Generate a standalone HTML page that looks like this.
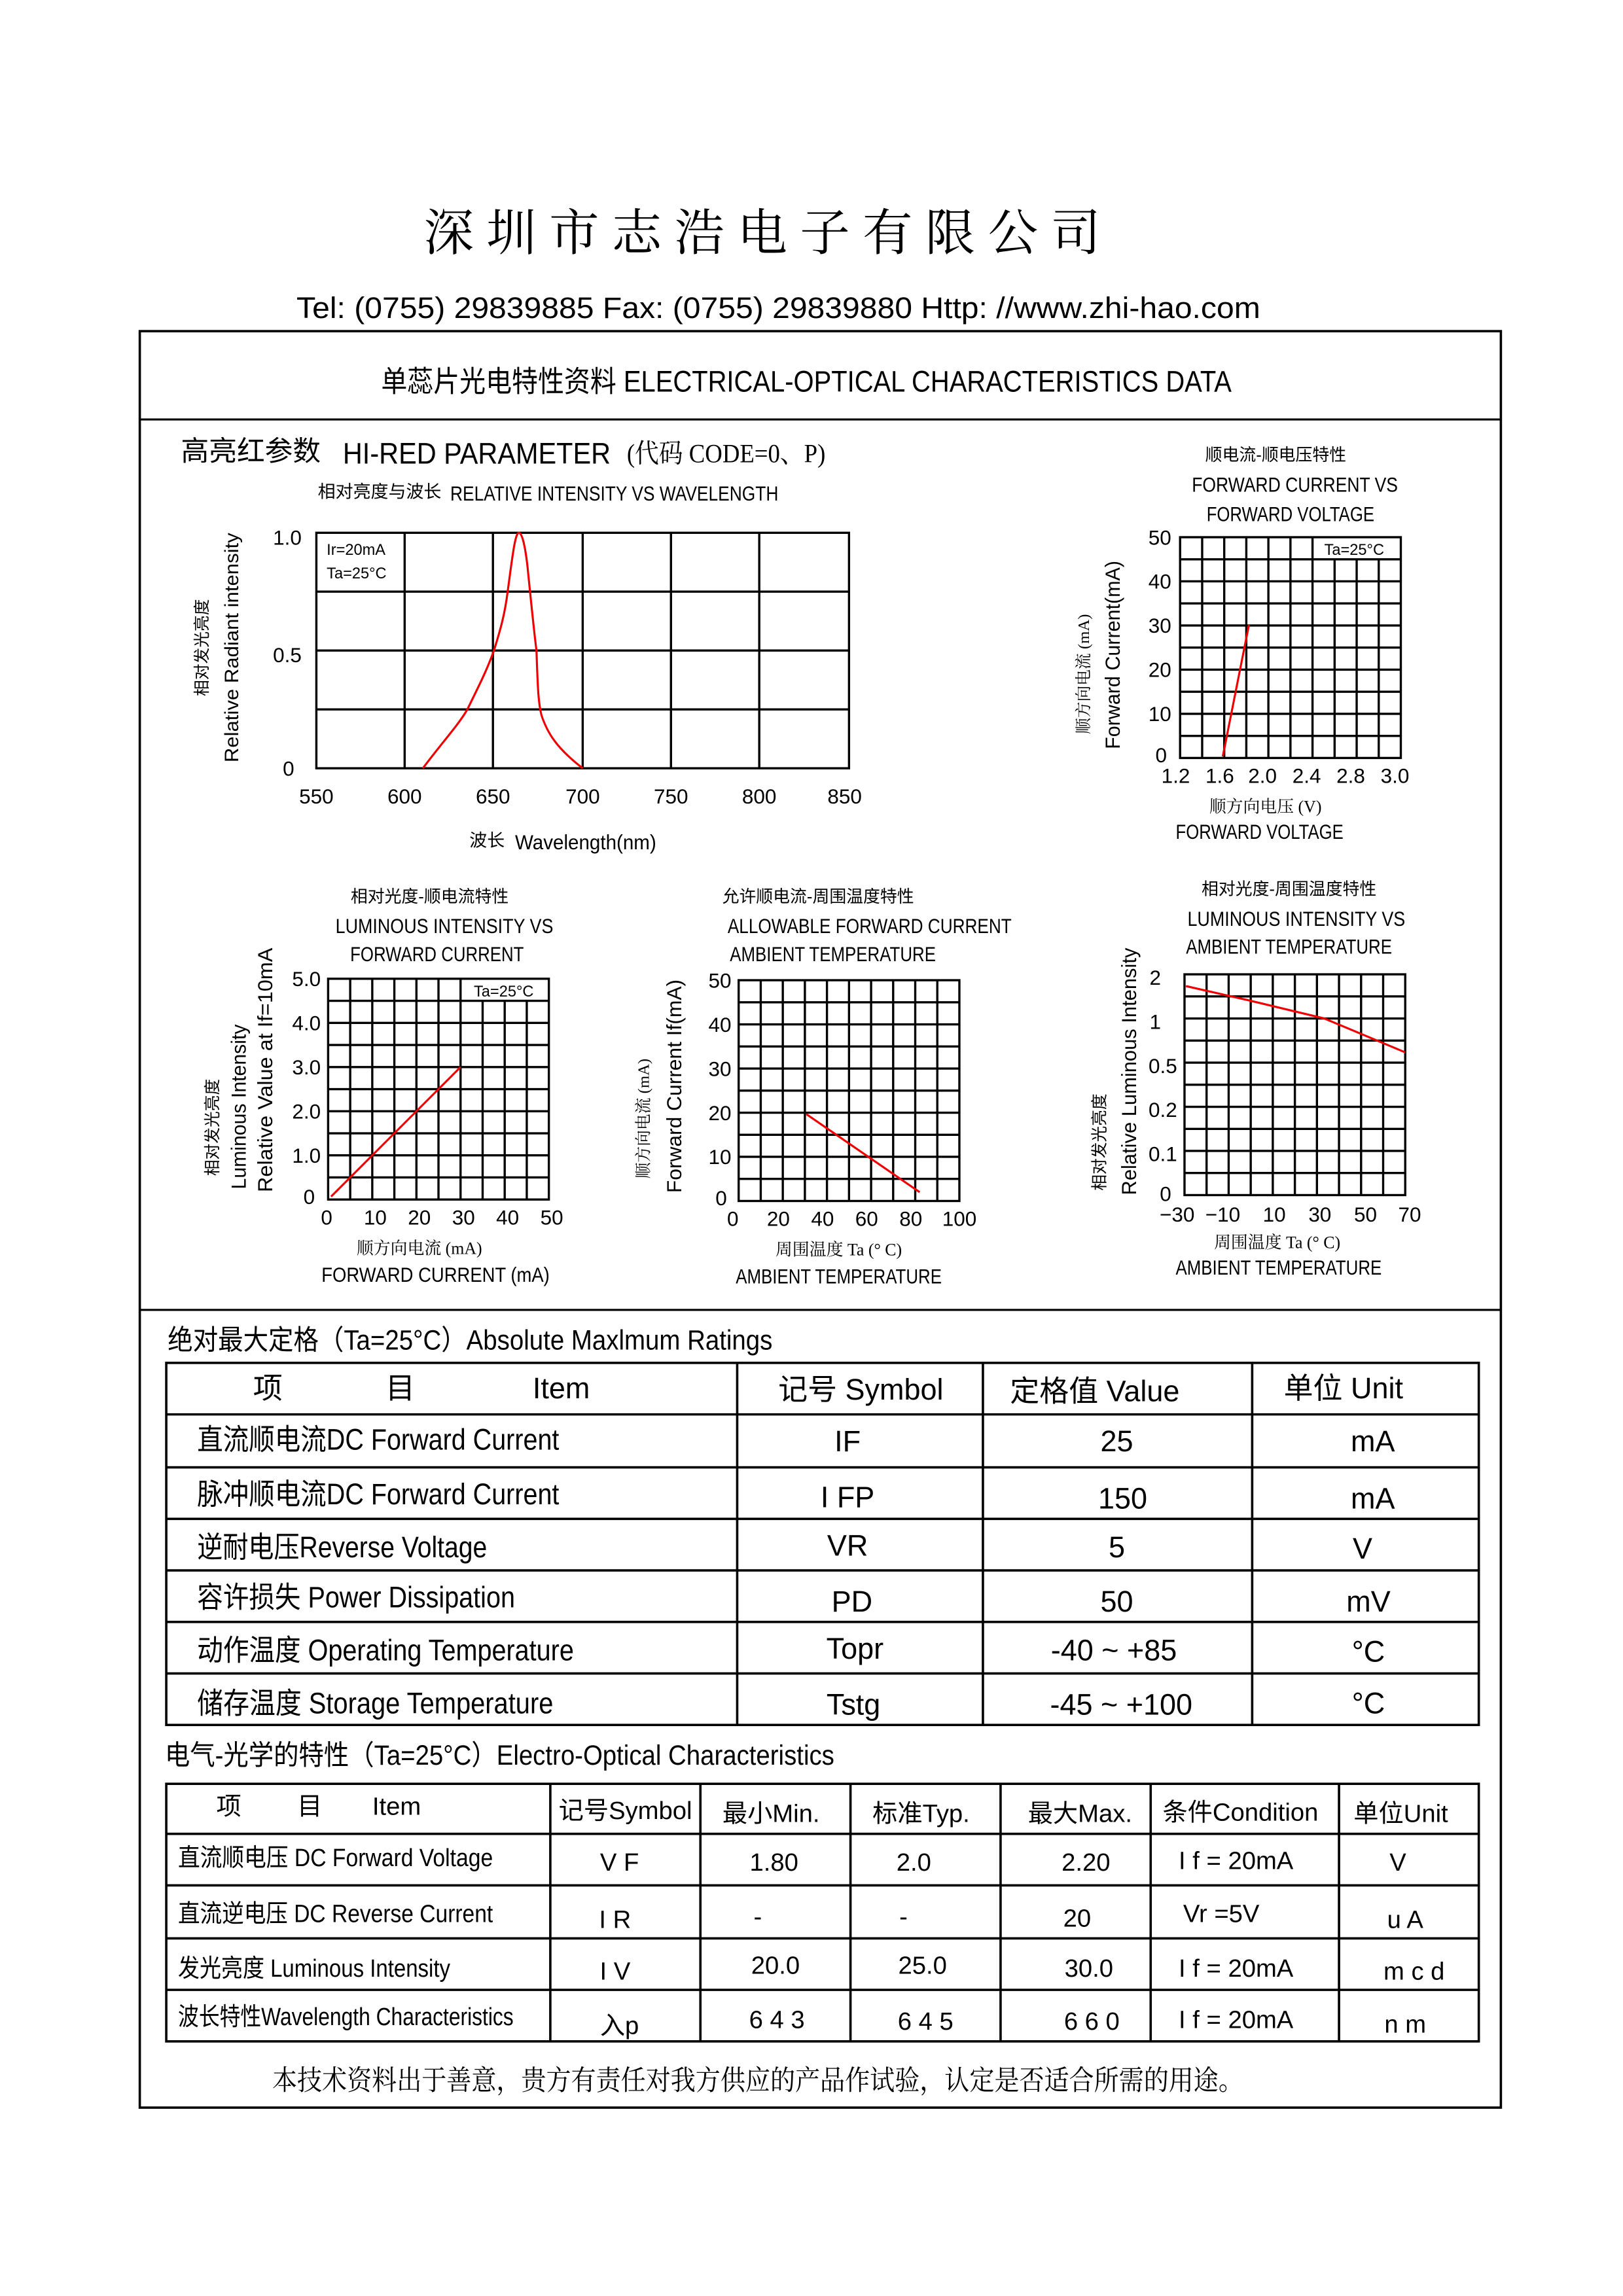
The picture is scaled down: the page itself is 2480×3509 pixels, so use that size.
<!DOCTYPE html>
<html><head><meta charset="utf-8"><style>
html,body{margin:0;padding:0;background:#fff;}
svg{display:block;}
text{font-family:"Liberation Sans","Noto Sans CJK SC",sans-serif;fill:#000;}
.s{font-family:"Liberation Serif","Noto Serif CJK SC",serif;}
</style></head><body>
<svg width="2480" height="3509" viewBox="0 0 1103 1560" preserveAspectRatio="none" xmlns="http://www.w3.org/2000/svg">
<rect width="1103" height="1560" fill="#fff"/>
<!-- header -->
<text x="518" y="170" font-size="34" text-anchor="middle" class="s" textLength="460" lengthAdjust="spacing">深圳市志浩电子有限公司</text>
<text x="529" y="216" font-size="20" text-anchor="middle" textLength="655" lengthAdjust="spacingAndGlyphs">Tel:  (0755)  29839885   Fax:  (0755)  29839880   Http: //www.zhi-hao.com</text>
<rect x="95" y="225" width="925" height="1207" fill="none" stroke="#000" stroke-width="1.6"/>
<line x1="95" y1="285" x2="1020" y2="285" stroke="#000" stroke-width="1.4"/>
<line x1="95" y1="890" x2="1020" y2="890" stroke="#000" stroke-width="1.4"/>
<text x="548" y="266" font-size="20" text-anchor="middle" textLength="578" lengthAdjust="spacingAndGlyphs">单蕊片光电特性资料 ELECTRICAL-OPTICAL  CHARACTERISTICS  DATA</text>

<text x="123" y="313" font-size="19">高亮红参数</text>
<text x="233" y="315" font-size="20" textLength="182" lengthAdjust="spacingAndGlyphs">HI-RED  PARAMETER</text>
<text x="426" y="314" font-size="18" class="s" textLength="135" lengthAdjust="spacingAndGlyphs">(代码 CODE=0、P)</text>
<text x="216" y="338" font-size="12">相对亮度与波长</text>
<text x="306" y="340" font-size="14" textLength="223" lengthAdjust="spacingAndGlyphs">RELATIVE  INTENSITY  VS  WAVELENGTH</text>

<!-- chart1 -->
<g stroke="#000" stroke-width="1.5" fill="none">
<rect x="215" y="362" width="362" height="160"/>
<line x1="275" y1="362" x2="275" y2="522"/><line x1="335" y1="362" x2="335" y2="522"/><line x1="396" y1="362" x2="396" y2="522"/><line x1="456" y1="362" x2="456" y2="522"/><line x1="516" y1="362" x2="516" y2="522"/>
<line x1="215" y1="402" x2="577" y2="402"/><line x1="215" y1="442" x2="577" y2="442"/><line x1="215" y1="482" x2="577" y2="482"/>
</g>
<path d="M287.4,522 C300,505 312,492 317.6,482 C326,465 331,455 335.7,442 C340,428 343,418 345,402 C348,380 350,362 352.6,362 C355,362 357,372 358.5,385 C361,410 363,430 364.6,442 C365.5,470 366,478 368,486 C372,498 378,508 396,522" fill="none" stroke="#e00" stroke-width="1.4"/>
<text x="222" y="377" font-size="10.5">Ir=20mA</text>
<text x="222" y="393" font-size="10.5">Ta=25°C</text>
<g font-size="14" text-anchor="end"><text x="205" y="370">1.0</text><text x="205" y="450">0.5</text><text x="200" y="527">0</text></g>
<g font-size="14" text-anchor="middle"><text x="215" y="546">550</text><text x="275" y="546">600</text><text x="335" y="546">650</text><text x="396" y="546">700</text><text x="456" y="546">750</text><text x="516" y="546">800</text><text x="574" y="546">850</text></g>
<text x="319" y="575" font-size="12">波长</text><text x="350" y="577" font-size="14" textLength="96" lengthAdjust="spacingAndGlyphs">Wavelength(nm)</text>
<text transform="translate(162,440) rotate(-90)" font-size="13" text-anchor="middle" textLength="156" lengthAdjust="spacingAndGlyphs">Relative  Radiant  intensity</text>
<text transform="translate(141,440) rotate(-90)" font-size="11" text-anchor="middle">相对发光亮度</text>

<!-- chart2 -->
<text x="867" y="313" font-size="11.5" text-anchor="middle">顺电流-顺电压特性</text>
<text x="880" y="334" font-size="14" text-anchor="middle" textLength="140" lengthAdjust="spacingAndGlyphs">FORWARD  CURRENT  VS</text>
<text x="877" y="354" font-size="14" text-anchor="middle" textLength="114" lengthAdjust="spacingAndGlyphs">FORWARD  VOLTAGE</text>
<g stroke="#000" stroke-width="1.5" fill="none">
<rect x="802" y="365" width="150" height="150"/>
<path d="M817,365V515M832,365V515M847,365V515M862,365V515M877,365V515M892,365V515M907,380V515M922,380V515M937,380V515"/>
<path d="M802,380H952M802,395H952M802,410H952M802,425H952M802,440H952M802,455H952M802,470H952M802,485H952M802,500H952"/>
</g>
<text x="900" y="377" font-size="10.5">Ta=25°C</text>
<path d="M831,514 L848.8,424.5" stroke="#e00" stroke-width="1.4"/>
<g font-size="14" text-anchor="end"><text x="796" y="370">50</text><text x="796" y="400">40</text><text x="796" y="430">30</text><text x="796" y="460">20</text><text x="796" y="490">10</text><text x="793" y="518">0</text></g>
<g font-size="14" text-anchor="middle"><text x="799" y="532">1.2</text><text x="829" y="532">1.6</text><text x="858" y="532">2.0</text><text x="888" y="532">2.4</text><text x="918" y="532">2.8</text><text x="948" y="532">3.0</text></g>
<text x="860" y="552" font-size="11.5" text-anchor="middle" class="s">顺方向电压 (V)</text>
<text x="856" y="570" font-size="14" text-anchor="middle" textLength="114" lengthAdjust="spacingAndGlyphs">FORWARD  VOLTAGE</text>
<text transform="translate(761,445) rotate(-90)" font-size="14" text-anchor="middle" textLength="128" lengthAdjust="spacingAndGlyphs">Forward  Current(mA)</text>
<text transform="translate(740,458) rotate(-90)" font-size="11" text-anchor="middle" class="s">顺方向电流 (mA)</text>

<!-- chart3 -->
<text x="292" y="613" font-size="11.5" text-anchor="middle">相对光度-顺电流特性</text>
<text x="302" y="634" font-size="14" text-anchor="middle" textLength="148" lengthAdjust="spacingAndGlyphs">LUMINOUS  INTENSITY  VS</text>
<text x="297" y="653" font-size="14" text-anchor="middle" textLength="118" lengthAdjust="spacingAndGlyphs">FORWARD  CURRENT</text>
<g stroke="#000" stroke-width="1.5" fill="none">
<rect x="223" y="665" width="150" height="150"/>
<path d="M238,665V815M253,665V815M268,665V815M283,665V815M298,665V815M313,665V815M328,680V815M343,680V815M358,680V815"/>
<path d="M223,680H373M223,695H373M223,710H373M223,725H373M223,740H373M223,755H373M223,770H373M223,785H373M223,800H373"/>
</g>
<text x="322" y="677" font-size="10.5">Ta=25°C</text>
<path d="M225,813 L313,725" stroke="#e00" stroke-width="1.4"/>
<g font-size="14" text-anchor="end"><text x="218" y="670">5.0</text><text x="218" y="700">4.0</text><text x="218" y="730">3.0</text><text x="218" y="760">2.0</text><text x="218" y="790">1.0</text><text x="214" y="818">0</text></g>
<g font-size="14" text-anchor="middle"><text x="222" y="832">0</text><text x="255" y="832">10</text><text x="285" y="832">20</text><text x="315" y="832">30</text><text x="345" y="832">40</text><text x="375" y="832">50</text></g>
<text x="285" y="852" font-size="11.5" text-anchor="middle" class="s">顺方向电流 (mA)</text>
<text x="296" y="871" font-size="14" text-anchor="middle" textLength="155" lengthAdjust="spacingAndGlyphs">FORWARD  CURRENT  (mA)</text>
<text transform="translate(185,727) rotate(-90)" font-size="14" text-anchor="middle" textLength="166" lengthAdjust="spacingAndGlyphs">Relative  Value  at  If=10mA</text>
<text transform="translate(167,752) rotate(-90)" font-size="14" text-anchor="middle" textLength="112" lengthAdjust="spacingAndGlyphs">Luminous  Intensity</text>
<text transform="translate(148,766) rotate(-90)" font-size="11" text-anchor="middle">相对发光亮度</text>

<!-- chart4 -->
<text x="556" y="613" font-size="11.5" text-anchor="middle">允许顺电流-周围温度特性</text>
<text x="591" y="634" font-size="14" text-anchor="middle" textLength="193" lengthAdjust="spacingAndGlyphs">ALLOWABLE  FORWARD  CURRENT</text>
<text x="566" y="653" font-size="14" text-anchor="middle" textLength="140" lengthAdjust="spacingAndGlyphs">AMBIENT  TEMPERATURE</text>
<g stroke="#000" stroke-width="1.5" fill="none">
<rect x="502" y="666" width="150" height="150"/>
<path d="M517,666V816M532,666V816M547,666V816M562,666V816M577,666V816M592,666V816M607,666V816M622,666V816M637,666V816"/>
<path d="M502,681H652M502,696H652M502,711H652M502,726H652M502,741H652M502,756H652M502,771H652M502,786H652M502,801H652"/>
</g>
<path d="M548,757 L625,810" stroke="#e00" stroke-width="1.4"/>
<g font-size="14" text-anchor="end"><text x="497" y="671">50</text><text x="497" y="701">40</text><text x="497" y="731">30</text><text x="497" y="761">20</text><text x="497" y="791">10</text><text x="494" y="819">0</text></g>
<g font-size="14" text-anchor="middle"><text x="498" y="833">0</text><text x="529" y="833">20</text><text x="559" y="833">40</text><text x="589" y="833">60</text><text x="619" y="833">80</text><text x="652" y="833">100</text></g>
<text x="570" y="853" font-size="11.5" text-anchor="middle" class="s">周围温度 Ta (° C)</text>
<text x="570" y="872" font-size="14" text-anchor="middle" textLength="140" lengthAdjust="spacingAndGlyphs">AMBIENT  TEMPERATURE</text>
<text transform="translate(463,738) rotate(-90)" font-size="14" text-anchor="middle" textLength="145" lengthAdjust="spacingAndGlyphs">Forward  Current  If(mA)</text>
<text transform="translate(441,760) rotate(-90)" font-size="11" text-anchor="middle" class="s">顺方向电流 (mA)</text>

<!-- chart5 -->
<text x="876" y="608" font-size="11.5" text-anchor="middle">相对光度-周围温度特性</text>
<text x="881" y="629" font-size="14" text-anchor="middle" textLength="148" lengthAdjust="spacingAndGlyphs">LUMINOUS  INTENSITY  VS</text>
<text x="876" y="648" font-size="14" text-anchor="middle" textLength="140" lengthAdjust="spacingAndGlyphs">AMBIENT  TEMPERATURE</text>
<g stroke="#000" stroke-width="1.5" fill="none">
<rect x="805" y="662" width="150" height="150"/>
<path d="M820,662V812M835,662V812M850,662V812M865,662V812M880,662V812M895,662V812M910,662V812M925,662V812M940,662V812"/>
<path d="M805,677H955M805,692H955M805,707H955M805,722H955M805,737H955M805,752H955M805,767H955M805,782H955M805,797H955"/>
</g>
<path d="M806,670 L850,680 L900,692 L955,715" fill="none" stroke="#e00" stroke-width="1.4"/>
<g font-size="14" text-anchor="end"><text x="789" y="669">2</text><text x="789" y="699">1</text><text x="800" y="729">0.5</text><text x="800" y="759">0.2</text><text x="800" y="789">0.1</text><text x="796" y="816">0</text></g>
<g font-size="14" text-anchor="middle"><text x="800" y="830">−30</text><text x="831" y="830">−10</text><text x="866" y="830">10</text><text x="897" y="830">30</text><text x="928" y="830">50</text><text x="958" y="830">70</text></g>
<text x="868" y="848" font-size="11.5" text-anchor="middle" class="s">周围温度 Ta (° C)</text>
<text x="869" y="866" font-size="14" text-anchor="middle" textLength="140" lengthAdjust="spacingAndGlyphs">AMBIENT  TEMPERATURE</text>
<text transform="translate(772,728) rotate(-90)" font-size="14" text-anchor="middle" textLength="168" lengthAdjust="spacingAndGlyphs">Relative  Luminous  Intensity</text>
<text transform="translate(751,776) rotate(-90)" font-size="11" text-anchor="middle">相对发光亮度</text>

<!-- table1 -->
<text x="114" y="917" font-size="19" textLength="411" lengthAdjust="spacingAndGlyphs">绝对最大定格（Ta=25°C）Absolute Maxlmum Ratings</text>
<g stroke="#000" stroke-width="1.6" fill="none">
<rect x="113" y="926" width="892" height="246"/>
<path d="M113,961H1005M113,997H1005M113,1032H1005M113,1067H1005M113,1102H1005M113,1137H1005"/>
<path d="M501,926V1172M668,926V1172M851,926V1172"/>
</g>
<g font-size="20">
<text x="172" y="950">项</text><text x="262" y="950">目</text><text x="362" y="950">Item</text>
<text x="585" y="951" text-anchor="middle">记号 Symbol</text>
<text x="744" y="952" text-anchor="middle">定格值 Value</text>
<text x="913" y="950" text-anchor="middle">单位 Unit</text>
<text x="134" y="985" textLength="246" lengthAdjust="spacingAndGlyphs">直流顺电流DC  Forward  Current</text>
<text x="134" y="1022" textLength="246" lengthAdjust="spacingAndGlyphs">脉冲顺电流DC  Forward  Current</text>
<text x="134" y="1058" textLength="197" lengthAdjust="spacingAndGlyphs">逆耐电压Reverse  Voltage</text>
<text x="134" y="1092" textLength="216" lengthAdjust="spacingAndGlyphs">容许损失  Power  Dissipation</text>
<text x="134" y="1128" textLength="256" lengthAdjust="spacingAndGlyphs">动作温度  Operating  Temperature</text>
<text x="134" y="1164" textLength="242" lengthAdjust="spacingAndGlyphs">储存温度  Storage  Temperature</text>
<g text-anchor="middle">
<text x="576" y="986">IF</text><text x="576" y="1024">I FP</text><text x="576" y="1057">VR</text><text x="579" y="1095">PD</text><text x="581" y="1127">Topr</text><text x="580" y="1165">Tstg</text>
<text x="759" y="986">25</text><text x="763" y="1025">150</text><text x="759" y="1058">5</text><text x="759" y="1095">50</text><text x="757" y="1128">-40 ~ +85</text><text x="762" y="1165">-45 ~ +100</text>
<text x="933" y="986">mA</text><text x="933" y="1025">mA</text><text x="926" y="1059">V</text><text x="930" y="1095">mV</text><text x="930" y="1129">°C</text><text x="930" y="1164">°C</text>
</g></g>

<!-- table2 -->
<text x="112" y="1199" font-size="19" textLength="455" lengthAdjust="spacingAndGlyphs">电气-光学的特性（Ta=25°C）Electro-Optical Characteristics</text>
<g stroke="#000" stroke-width="1.6" fill="none">
<rect x="113" y="1212" width="892" height="175"/>
<path d="M113,1246H1005M113,1281H1005M113,1317H1005M113,1352H1005"/>
<path d="M374,1212V1387M476,1212V1387M578,1212V1387M680,1212V1387M782,1212V1387M910,1212V1387"/>
</g>
<g font-size="17">
<text x="147" y="1233">项</text><text x="202" y="1233">目</text><text x="253" y="1233">Item</text>
<g text-anchor="middle">
<text x="425" y="1236">记号Symbol</text><text x="524" y="1238">最小Min.</text><text x="626" y="1238">标准Typ.</text><text x="734" y="1238">最大Max.</text><text x="843" y="1237">条件Condition</text><text x="952" y="1238">单位Unit</text>
<text x="421" y="1271">V F</text><text x="526" y="1271">1.80</text><text x="621" y="1271">2.0</text><text x="738" y="1271">2.20</text><text x="840" y="1270">I f = 20mA</text><text x="950" y="1271">V</text>
<text x="418" y="1310">I R</text><text x="515" y="1308">-</text><text x="614" y="1308">-</text><text x="732" y="1309">20</text><text x="830" y="1306">Vr =5V</text><text x="955" y="1310">u A</text>
<text x="418" y="1345">I V</text><text x="527" y="1341">20.0</text><text x="627" y="1341">25.0</text><text x="740" y="1343">30.0</text><text x="840" y="1343">I f = 20mA</text><text x="961" y="1345">m c d</text>
<text x="421" y="1382">入p</text><text x="528" y="1378">6 4 3</text><text x="629" y="1379">6 4 5</text><text x="742" y="1379">6 6 0</text><text x="840" y="1378">I f = 20mA</text><text x="955" y="1381">n m</text>
</g>
<text x="121" y="1268" textLength="214" lengthAdjust="spacingAndGlyphs">直流顺电压  DC  Forward  Voltage</text>
<text x="121" y="1306" textLength="214" lengthAdjust="spacingAndGlyphs">直流逆电压  DC  Reverse  Current</text>
<text x="121" y="1343" textLength="185" lengthAdjust="spacingAndGlyphs">发光亮度  Luminous  Intensity</text>
<text x="121" y="1376" textLength="228" lengthAdjust="spacingAndGlyphs">波长特性Wavelength Characteristics</text>
</g>
<text x="515" y="1420" font-size="19" text-anchor="middle" class="s" textLength="660" lengthAdjust="spacingAndGlyphs">本技术资料出于善意，贵方有责任对我方供应的产品作试验，认定是否适合所需的用途。</text>
</svg>
</body></html>
